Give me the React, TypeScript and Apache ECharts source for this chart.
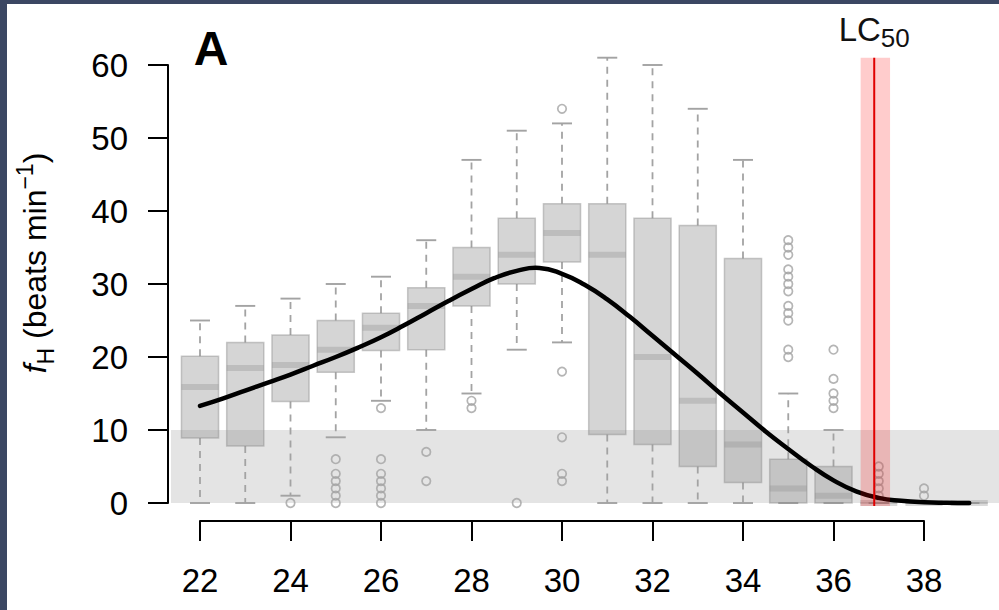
import React, { useEffect, useRef } from "react";
import * as echarts from "echarts";

// ---- data ----
const temps = [22, 23, 24, 25, 26, 27, 28, 29, 30, 31, 32, 33, 34, 35, 36, 37, 38, 39];
const whiskerLow = [0, 0, 1, 9, 14, 10, 15, 21, 22, 0, 0, 0, 0, 0, 0, 0, 0, 0];
const q1 = [8.9, 7.8, 13.9, 17.9, 20.9, 21, 27, 30, 33, 9.4, 8, 5, 2.8, 0, 0, 0, 0, 0];
const medians = [15.9, 18.5, 18.9, 21, 24, 27, 31, 34, 37, 34, 20, 14, 8, 2, 1, 0, 0, 0];
const q3 = [20.1, 22, 23, 25, 26, 29.5, 35, 39, 41, 41, 39, 38, 33.5, 6, 5, 0, 0, 0];
const whiskerHigh = [25, 27, 28, 30, 31, 36, 47, 51, 52, 61, 60, 54, 47, 15, 10, 0, 0, 0];

const outlierTemps = [
  24,
  25, 25, 25, 25, 25, 25,
  26, 26, 26, 26, 26, 26, 26,
  27, 27,
  28, 28,
  29,
  30, 30, 30, 30, 30,
  35, 35, 35, 35, 35, 35, 35, 35, 35, 35, 35, 35,
  36, 36, 36, 36, 36,
  37, 37, 37, 37, 37,
  38, 38,
];
const outlierValues = [
  0,
  6, 4, 3, 2, 1, 0,
  13, 6, 4, 3, 2, 1, 0,
  7, 3,
  14, 13,
  0,
  54, 18, 9, 4, 3,
  36, 35, 34, 32, 31, 30, 29, 27, 26, 25, 21, 20,
  21, 17, 15, 14, 13,
  5, 4, 3, 2, 1,
  2, 1,
];

const curveTemps = [
  22, 22.5, 23, 23.5, 24, 24.5, 25, 25.5, 26, 26.5, 27, 27.5, 28, 28.5, 29, 29.5, 30,
  30.5, 31, 31.5, 32, 32.5, 33, 33.5, 34, 34.5, 35, 35.5, 36, 36.5, 37, 37.5, 38, 38.5, 39,
];
const curveValues = [
  13.3, 14.3, 15.4, 16.5, 17.6, 18.8, 20.0, 21.3, 22.7, 24.3, 26.0, 27.7, 29.3, 30.8, 31.8, 32.2, 31.4,
  29.9, 27.9, 25.5, 22.9, 20.3, 17.7, 15.0, 12.4, 9.8, 7.4, 5.1, 3.1, 1.6, 0.7, 0.3, 0.1, 0.03, 0.0,
];

const thresholdBand = [0, 10];
const lc50 = 36.9;
const lc50Ci = [36.6, 37.25];
const lc50Span = [-0.4, 61];

const xMin = 22, xMax = 38, xInterval = 2;
const yMin = 0, yMax = 60, yInterval = 10;

const FONT = '"Liberation Sans", Arial, Helvetica, sans-serif';

export default function App() {
  const ref = useRef<HTMLDivElement>(null);

  useEffect(() => {
    if (!ref.current) return;
    const chart = echarts.init(ref.current, undefined, { renderer: "svg" });

    const boxData = temps.map((t, i) => [t, whiskerLow[i], q1[i], medians[i], q3[i], whiskerHigh[i]]);
    const outlierData = outlierTemps.map((t, i) => [t, outlierValues[i]]);
    const curveData = curveTemps.map((t, i) => [t, curveValues[i]]);

    const BOX_W = 0.82;
    const whiskerColor = "#a3a3a3";

    const option: any = {
      animation: false,
      backgroundColor: "#ffffff",
      grid: { left: 200, right: 75, top: 65, bottom: 107, containLabel: false },
      xAxis: {
        type: "value",
        min: xMin,
        max: xMax,
        interval: xInterval,
        offset: 18,
        axisLine: { show: true, onZero: false, lineStyle: { color: "#000", width: 2 } },
        axisTick: { show: true, length: 20, lineStyle: { color: "#000", width: 2 } },
        axisLabel: { fontSize: 33, color: "#000", margin: 43, fontFamily: FONT },
        splitLine: { show: false },
      },
      yAxis: {
        type: "value",
        min: yMin,
        max: yMax,
        interval: yInterval,
        offset: 32,
        axisLine: { show: true, onZero: false, lineStyle: { color: "#000", width: 2 } },
        axisTick: { show: true, length: 20, lineStyle: { color: "#000", width: 2 } },
        axisLabel: { fontSize: 33, color: "#000", margin: 40, fontFamily: FONT },
        splitLine: { show: false },
      },
      graphic: [
        { type: "rect", left: 0, top: 0, z: 100, shape: { width: 999, height: 4 }, style: { fill: "#3b4763" } },
        { type: "rect", left: 0, top: 0, z: 100, shape: { width: 7, height: 610 }, style: { fill: "#3b4763" } },
        {
          type: "text",
          x: 211,
          y: 48,
          z: 50,
          style: {
            text: "A",
            fontSize: 48,
            fontWeight: "bold",
            fontFamily: FONT,
            fill: "#000",
            align: "center",
            verticalAlign: "middle",
          },
        },
        {
          type: "text",
          x: 35,
          y: 263,
          rotation: Math.PI / 2,
          z: 50,
          style: {
            text: "{i|f}{sub|H}{n| (beats min}{sup|−1}{n|)}",
            fontFamily: FONT,
            fill: "#000",
            align: "center",
            verticalAlign: "middle",
            rich: {
              i: { fontSize: 32, fontStyle: "italic", lineHeight: 44, fontFamily: FONT, fill: "#000" },
              n: { fontSize: 32, lineHeight: 44, fontFamily: FONT, fill: "#000" },
              sub: { fontSize: 23, lineHeight: 24, verticalAlign: "bottom", fontFamily: FONT, fill: "#000" },
              sup: { fontSize: 23, lineHeight: 24, verticalAlign: "top", fontFamily: FONT, fill: "#000" },
            },
          },
        },
      ],
      series: [
        {
          name: "band",
          type: "custom",
          z: 1,
          silent: true,
          data: [thresholdBand],
          renderItem: (params: any, api: any) => {
            const cs = params.coordSys;
            const top = api.coord([xMin, api.value(1)])[1];
            const bottom = api.coord([xMin, api.value(0)])[1];
            const left = cs.x - 29;
            return {
              type: "rect",
              shape: { x: left, y: top, width: api.getWidth() - left, height: bottom - top },
              style: { fill: "#e4e4e4" },
            };
          },
        },
        {
          name: "boxes",
          type: "custom",
          z: 2,
          silent: true,
          encode: { x: 0, y: [1, 2, 3, 4, 5] },
          data: boxData,
          renderItem: (params: any, api: any) => {
            const x = api.value(0);
            const lo = api.coord([x, api.value(1)]);
            const b1 = api.coord([x, api.value(2)]);
            const md = api.coord([x, api.value(3)]);
            const b3 = api.coord([x, api.value(4)]);
            const hi = api.coord([x, api.value(5)]);
            const halfW = api.size([BOX_W, 0])[0] / 2;
            const capHalf = 10;
            const cx = lo[0];
            const dash = { stroke: whiskerColor, lineWidth: 1.8, lineDash: [7, 6] };
            const solid = { stroke: whiskerColor, lineWidth: 1.9 };
            return {
              type: "group",
              children: [
                { type: "line", shape: { x1: cx, y1: b3[1], x2: cx, y2: hi[1] }, style: dash },
                { type: "line", shape: { x1: cx, y1: b1[1], x2: cx, y2: lo[1] }, style: dash },
                { type: "line", shape: { x1: cx - capHalf, y1: hi[1], x2: cx + capHalf, y2: hi[1] }, style: solid },
                { type: "line", shape: { x1: cx - capHalf, y1: lo[1], x2: cx + capHalf, y2: lo[1] }, style: solid },
                {
                  type: "rect",
                  shape: { x: cx - halfW, y: b3[1], width: halfW * 2, height: b1[1] - b3[1] },
                  style: { fill: "rgba(140,140,140,0.37)", stroke: "rgba(140,140,140,0.45)", lineWidth: 1.5 },
                },
                {
                  type: "line",
                  shape: { x1: cx - halfW, y1: md[1], x2: cx + halfW, y2: md[1] },
                  style: { stroke: "rgba(140,140,140,0.32)", lineWidth: 6 },
                },
              ],
            };
          },
        },
        {
          name: "outliers",
          type: "scatter",
          z: 3,
          silent: true,
          clip: false,
          symbol: "circle",
          symbolSize: 8.5,
          itemStyle: { color: "rgba(0,0,0,0)", borderColor: "#a3a3a3", borderWidth: 1.7 },
          data: outlierData,
        },
        {
          name: "fit",
          type: "custom",
          z: 4,
          silent: true,
          encode: { x: 0, y: 1 },
          data: curveData,
          renderItem: (params: any, api: any) => {
            if (params.dataIndex !== 0) return null;
            const pts = curveData.map((d) => api.coord(d));
            return {
              type: "polyline",
              shape: { points: pts, smooth: 0.5 },
              style: { stroke: "#000", lineWidth: 4.5, fill: null, lineJoin: "round", lineCap: "round" },
            };
          },
        },
        {
          name: "lc50",
          type: "custom",
          z: 5,
          silent: true,
          data: [[lc50, lc50Ci[0], lc50Ci[1], lc50Span[0], lc50Span[1]]],
          renderItem: (params: any, api: any) => {
            const x = api.coord([api.value(0), 0])[0];
            const xl = api.coord([api.value(1), 0])[0];
            const xr = api.coord([api.value(2), 0])[0];
            const yb = api.coord([api.value(0), api.value(3)])[1];
            const yt = api.coord([api.value(0), api.value(4)])[1];
            return {
              type: "group",
              children: [
                {
                  type: "rect",
                  shape: { x: xl, y: yt, width: xr - xl, height: yb - yt },
                  style: { fill: "rgba(255,0,0,0.2)" },
                },
                {
                  type: "line",
                  shape: { x1: x, y1: yt, x2: x, y2: yb },
                  style: { stroke: "#e00000", lineWidth: 2 },
                },
                {
                  type: "text",
                  x: x,
                  y: 29,
                  style: {
                    text: "{n|LC}{s|50}",
                    align: "center",
                    verticalAlign: "middle",
                    fontFamily: FONT,
                    fill: "#000",
                    rich: {
                      n: { fontSize: 33, lineHeight: 44, fontFamily: FONT, fill: "#111" },
                      s: { fontSize: 26, lineHeight: 26, verticalAlign: "bottom", fontFamily: FONT, fill: "#111" },
                    },
                  },
                },
              ],
            };
          },
        },
      ],
    };

    chart.setOption(option);
    return () => chart.dispose();
  }, []);

  return (
    <div
      ref={ref}
      style={{ position: "fixed", left: 0, top: 0, width: 999, height: 610, background: "#fff" }}
    />
  );
}
